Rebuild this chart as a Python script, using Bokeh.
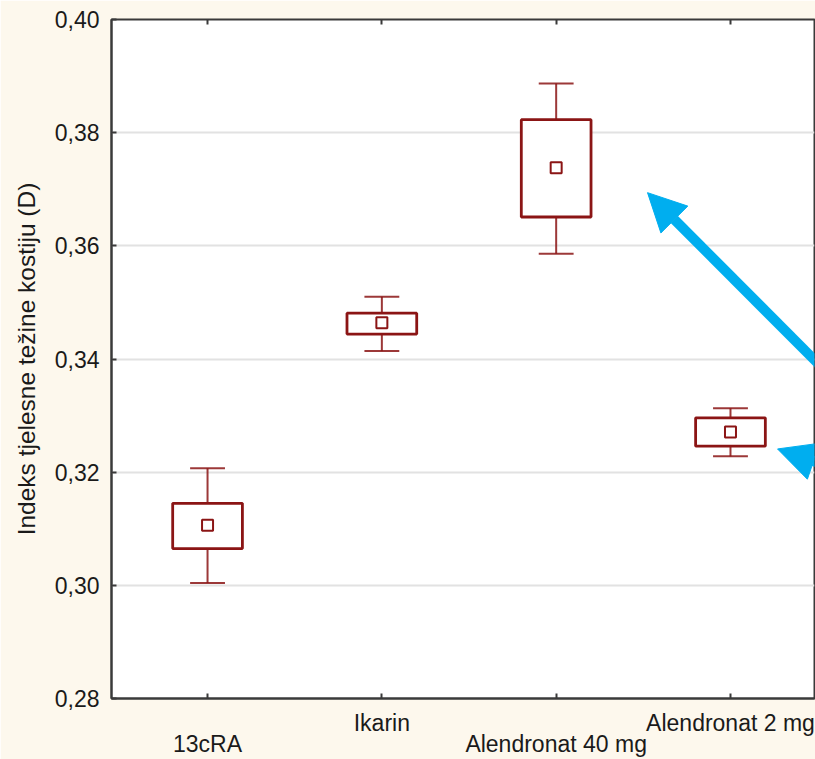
from bokeh.plotting import figure
from bokeh.models import (Range1d, FixedTicker, CustomJSTickFormatter, LinearAxis,
                          Arrow, NormalHead, ColumnDataSource, CustomLabelingPolicy)
from bokeh.embed import file_html
from bokeh.resources import INLINE
import numpy as np

# ---- data ----
categories = ["13cRA", "Ikarin", "Alendronat 40 mg", "Alendronat 2 mg"]
means = [0.3106, 0.3464, 0.3738, 0.3271]
box_low = [0.3065, 0.3444, 0.3651, 0.3246]
box_high = [0.3145, 0.3481, 0.3823, 0.3296]
whisk_low = [0.3004, 0.3414, 0.3586, 0.3228]
whisk_high = [0.3207, 0.3510, 0.3887, 0.3313]
y_ticks = [0.28, 0.30, 0.32, 0.34, 0.36, 0.38, 0.40]
y_label = "Indeks tjelesne težine kostiju (D)"

FONT = "Liberation Sans"
RED = "#8b1515"
BG = "#fdf8ed"
AX = "#3a3a3a"
TXT = "#1a1a1a"

xs = np.arange(1, len(categories) + 1)
src = ColumnDataSource(dict(
    x=xs, mean=means, lo=box_low, hi=box_high, wlo=whisk_low, whi=whisk_high,
    capl=xs - 0.1, capr=xs + 0.1))

p = figure(width=815, height=759, output_backend="svg", toolbar_location=None,
           x_range=Range1d(0.449, 4.482), y_range=Range1d(0.28, 0.40),
           min_border_left=111, min_border_top=19, min_border_right=1,
           min_border_bottom=10)
p.background_fill_color = "white"
p.border_fill_color = BG
p.outline_line_color = AX
p.outline_line_width = 2

def keep(parity):
    return CustomLabelingPolicy(code="""
for (const i of indices) { if (i %% 2 != %d) indices.unset(i) }
return indices
""" % parity)

hide_all = CustomLabelingPolicy(code="""
for (const i of indices) { indices.unset(i) }
return indices
""")

cat_labels = {int(x): c for x, c in zip(xs, categories)}

# bottom axis: upper row of category labels (2nd and 4th)
p.xaxis.ticker = FixedTicker(ticks=list(xs))
p.xaxis.major_label_overrides = cat_labels
p.xaxis.major_label_policy = keep(1)
p.yaxis.ticker = FixedTicker(ticks=y_ticks)
p.yaxis.formatter = CustomJSTickFormatter(code="return tick.toFixed(2).replace('.', ',');")
p.yaxis.axis_label = y_label

for ax in (p.xaxis[0], p.yaxis[0]):
    ax.axis_line_color = AX
    ax.axis_line_width = 2
    ax.major_tick_in = 5
    ax.major_tick_out = 0
    ax.major_tick_line_color = AX
    ax.major_tick_line_width = 2
    ax.minor_tick_line_color = None
    ax.major_label_text_font = FONT
    ax.major_label_text_font_size = "23px"
    ax.major_label_text_color = TXT
    ax.major_label_standoff = 12
p.xaxis.major_label_standoff = 11
p.yaxis.axis_label_text_font = FONT
p.yaxis.axis_label_text_font_size = "24.5px"
p.yaxis.axis_label_text_font_style = "normal"
p.yaxis.axis_label_text_color = TXT
p.yaxis.axis_label_standoff = 12

# second bottom axis: lower row of category labels (1st and 3rd)
low = LinearAxis(ticker=FixedTicker(ticks=list(xs)), major_label_overrides=cat_labels,
                 major_label_policy=keep(0), major_label_standoff=-8,
                 axis_line_color=None, major_tick_in=0, major_tick_out=0,
                 major_tick_line_color=None, minor_tick_line_color=None,
                 major_label_text_font=FONT, major_label_text_font_size="23px",
                 major_label_text_color=TXT)
p.add_layout(low, "below")

# top tick-only axis
top = LinearAxis(ticker=FixedTicker(ticks=list(xs)), major_label_policy=hide_all,
                 major_label_standoff=0, axis_line_color=None, major_tick_in=5,
                 major_tick_out=0, major_tick_line_color=AX, major_tick_line_width=2,
                 minor_tick_line_color=None)
p.add_layout(top, "above")

p.xgrid.grid_line_color = None
p.ygrid.ticker = FixedTicker(ticks=y_ticks)
p.ygrid.grid_line_color = "#e2e2e2"
p.ygrid.grid_line_width = 2

# whiskers
wkw = dict(source=src, line_color=RED, line_width=2, line_alpha=0.85)
p.segment(x0="x", y0="hi", x1="x", y1="whi", **wkw)
p.segment(x0="x", y0="lo", x1="x", y1="wlo", **wkw)
p.segment(x0="capl", y0="whi", x1="capr", y1="whi", **wkw)
p.segment(x0="capl", y0="wlo", x1="capr", y1="wlo", **wkw)
# boxes
p.vbar(x="x", width=0.4, bottom="lo", top="hi", source=src, fill_color="white",
       line_color=RED, line_width=2.8)
# mean markers
p.scatter(x="x", y="mean", source=src, marker="square", size=11, fill_color="white",
          line_color=RED, line_width=2)

# blue annotation arrows
BLUE = "#00aeef"
p.add_layout(Arrow(x_start=4.632, y_start=0.3352, x_end=3.524, y_end=0.3694,
                   line_color=BLUE, line_width=10,
                   end=NormalHead(size=38, fill_color=BLUE, line_color=BLUE)))
p.add_layout(Arrow(x_start=4.746, y_start=0.3191, x_end=4.270, y_end=0.3241,
                   line_color=BLUE, line_width=10,
                   end=NormalHead(size=38, fill_color=BLUE, line_color=BLUE)))

open("out.html", "w").write(file_html(p, INLINE))
